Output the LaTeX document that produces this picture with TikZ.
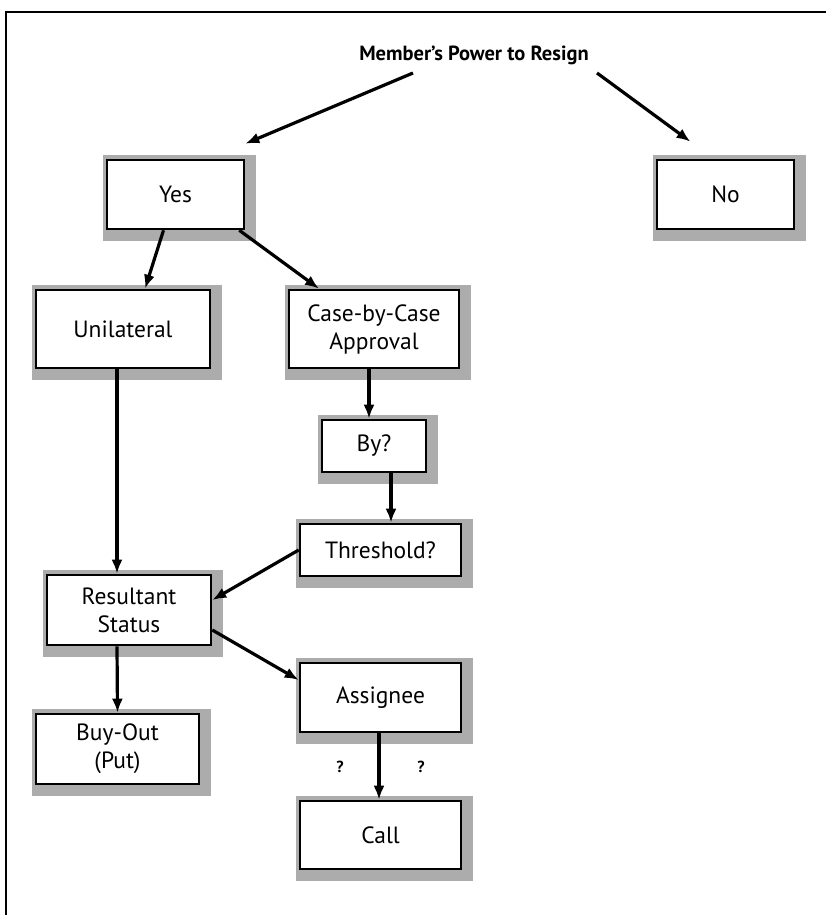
\documentclass[tikz,border=0pt]{standalone}
\usepackage{fontspec}
\setmainfont{PT Sans}
\usetikzlibrary{arrows.meta,backgrounds}
\begin{document}
\begin{tikzpicture}[x=1pt,y=-1pt,>={Latex[length=14pt,width=11pt]},
  box/.style={draw,line width=2.6pt,fill=white,align=center,inner sep=0pt,
    font=\fontsize{23.5}{28}\selectfont},
  link/.style={->,line width=3.2pt}]
  \useasboundingbox (0,0) rectangle (826,915);
  \draw[line width=1.2pt] (6,915) -- (6,12) -- (826,12);
  \node[font=\bfseries\fontsize{20.5}{25}\selectfont] (title) at (474,55) {Member's Power to Resign};
  \coordinate (tl) at (413,73);
  \coordinate (tr) at (597,73);
  \node[box,minimum width=137pt,minimum height=69pt] (yes) at (175.5,194.5) {Yes};
  \node[box,minimum width=137pt,minimum height=69pt] (no) at (725.5,194.5) {No};
  \node[box,minimum width=174pt,minimum height=78pt] (unil) at (123,329) {Unilateral};
  \node[box,minimum width=170pt,minimum height=78pt] (case) at (374,329) {Case-by-Case\\Approval};
  \node[box,minimum width=104pt,minimum height=52pt] (by) at (374,446) {By?};
  \node[box,minimum width=161pt,minimum height=52pt] (thresh) at (380.5,550) {Threshold?};
  \node[box,minimum width=164pt,minimum height=70pt] (result) at (129,610) {Resultant\\Status};
  \node[box,minimum width=163pt,minimum height=70pt] (buyout) at (117.5,749) {Buy-Out\\(Put)};
  \node[box,minimum width=161pt,minimum height=69pt] (assignee) at (380.5,697.5) {Assignee};
  \node[box,minimum width=161pt,minimum height=68pt] (call) at (380.5,835) {Call};
  \node[font=\bfseries\fontsize{16}{18}\selectfont] (q1) at (340,767) {?};
  \node[font=\bfseries\fontsize{16}{18}\selectfont] (q2) at (421,767) {?};
  \begin{scope}[on background layer]
    \foreach \n in {yes,no,unil,case,by,thresh,result,buyout,assignee,call}
      \fill[gray!65] ([xshift=-3pt,yshift=-11pt]\n.south west) rectangle ([xshift=11pt,yshift=4pt]\n.north east);
  \end{scope}
  \draw[link] (tl) -- ([yshift=15pt]yes.north east);
  \draw[link] (tr) -- ([xshift=-35pt,yshift=17pt]no.north);
  \draw[link] ([xshift=-12pt]yes.south) -- ([xshift=22pt]unil.north);
  \draw[link] ([xshift=-6pt]yes.south east) -- ([xshift=-55pt]case.north);
  \draw[link] ([xshift=-5pt]case.south) -- ([xshift=-5pt]by.north);
  \draw[link] ([xshift=17pt]by.south) -- ([xshift=10.5pt]thresh.north);
  \draw[link] (thresh.west) -- ([yshift=10pt]result.east);
  \draw[link] ([xshift=-6pt]unil.south) -- ([xshift=-12pt]result.north);
  \draw[link] ([xshift=-12pt]result.south) -- (buyout.north);
  \draw[link] ([yshift=-20pt]result.east) -- ([yshift=17.5pt]assignee.west);
  \draw[link] ([xshift=-1.5pt]assignee.south) -- ([xshift=-1.5pt]call.north);
\end{tikzpicture}
\end{document}
